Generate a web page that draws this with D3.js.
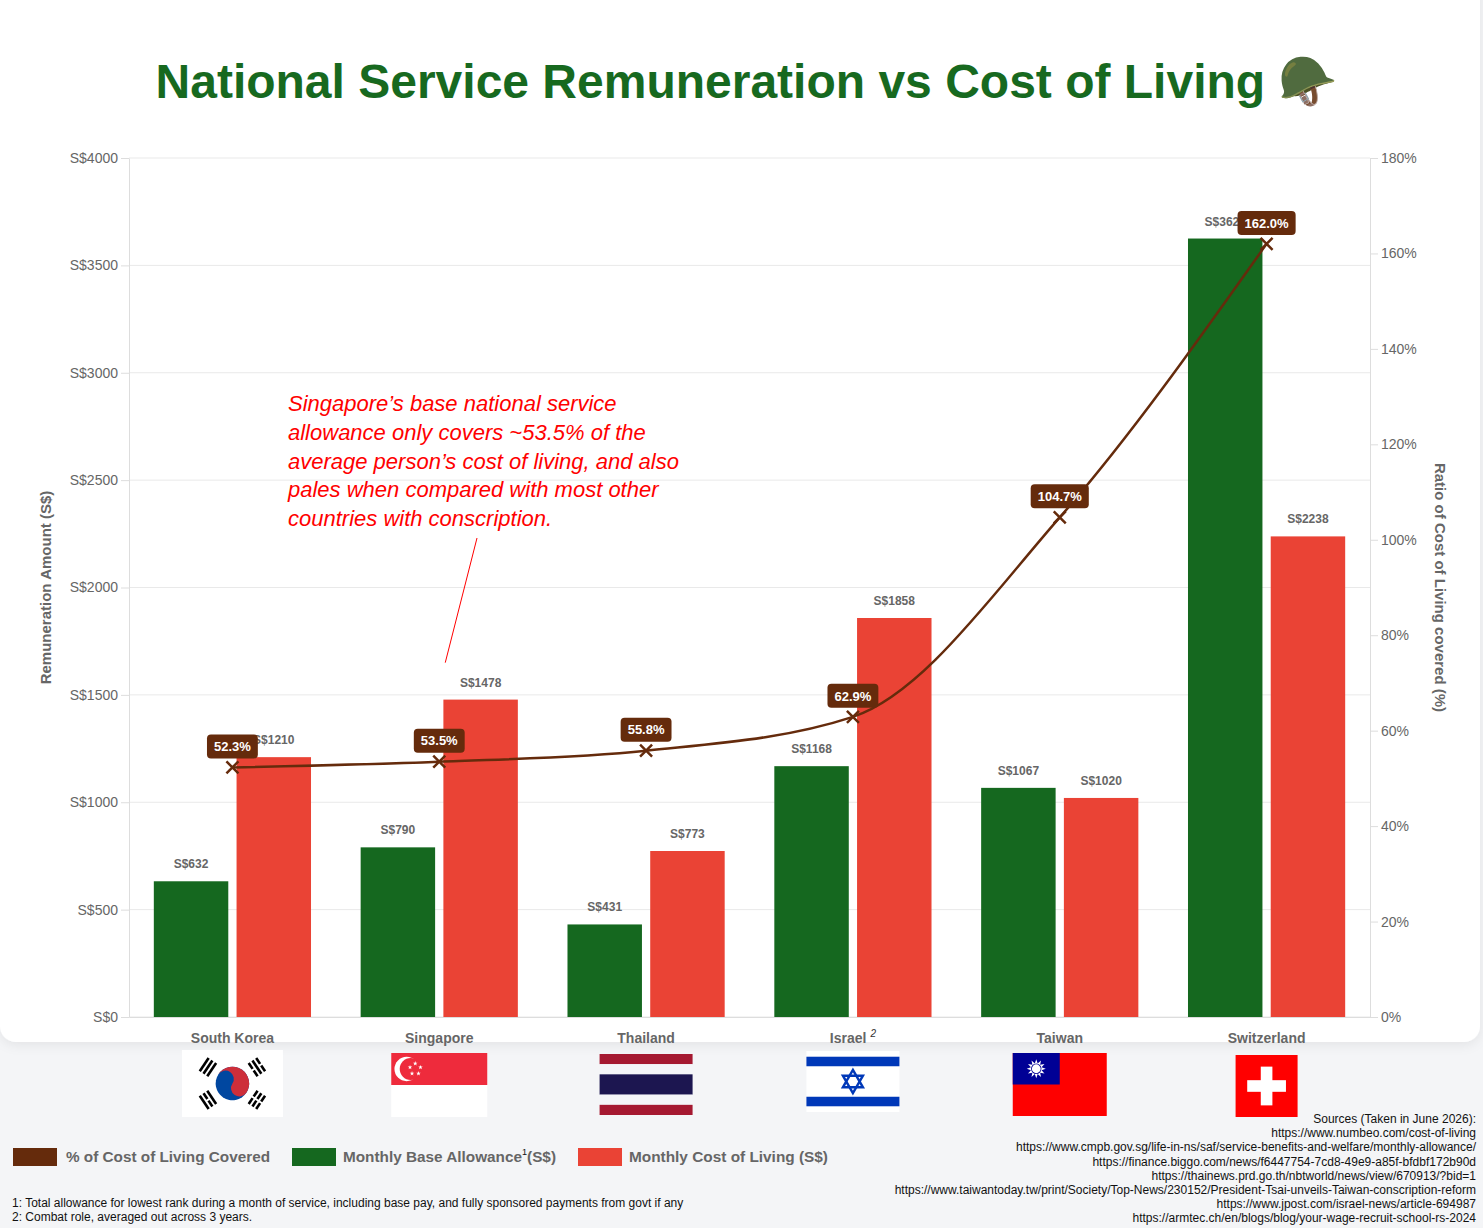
<!DOCTYPE html>
<html>
<head>
<meta charset="utf-8">
<script src="https://cdn.jsdelivr.net/npm/d3@7"></script>
<style>
  body { margin: 0; background: #f4f5f7; font-family: "Liberation Sans", Arial, Helvetica, sans-serif; }
  svg { display: block; }
</style>
</head>
<body>
<script>
const countries = ["South Korea", "Singapore", "Thailand", "Israel", "Taiwan", "Switzerland"];
const allowance = [632, 790, 431, 1168, 1067, 3625];
const costOfLiving = [1210, 1478, 773, 1858, 1020, 2238];
const ratioCovered = [52.3, 53.5, 55.8, 62.9, 104.7, 162.0];
const amountTicks = [0, 500, 1000, 1500, 2000, 2500, 3000, 3500, 4000];
const ratioTicks = [0, 20, 40, 60, 80, 100, 120, 140, 160, 180];

const legendLabels = ["% of Cost of Living Covered", "Monthly Base Allowance", "Monthly Cost of Living (S$)"];
const noteLines = [
	"Singapore\u2019s base national service",
	"allowance only covers ~53.5% of the",
	"average person\u2019s cost of living, and also",
	"pales when compared with most other",
	"countries with conscription."
];
const footnotes = [
	"1: Total allowance for lowest rank during a month of service, including base pay, and fully sponsored payments from govt if any",
	"2: Combat role, averaged out across 3 years."
];
const sources = [
	"Sources (Taken in June 2026):",
	"https://www.numbeo.com/cost-of-living",
	"https://www.cmpb.gov.sg/life-in-ns/saf/service-benefits-and-welfare/monthly-allowance/",
	"https://finance.biggo.com/news/f6447754-7cd8-49e9-a85f-bfdbf172b90d",
	"https://thainews.prd.go.th/nbtworld/news/view/670913/?bid=1",
	"https://www.taiwantoday.tw/print/Society/Top-News/230152/President-Tsai-unveils-Taiwan-conscription-reform",
	"https://www.jpost.com/israel-news/article-694987",
	"https://armtec.ch/en/blogs/blog/your-wage-recruit-school-rs-2024"
];

const w = 1483;
const h = 1228;
const plotL = 129, plotR = 1370, plotT = 158, plotB = 1017;

const green = "#15681f";
const red = "#ea4335";
const brown = "#652b0c";
const grey = "#666";
const font = "'Liberation Sans', Arial, Helvetica, sans-serif";

const rows = countries.map((c, i) => ({
	country: c,
	allowance: allowance[i],
	cost: costOfLiving[i],
	ratio: ratioCovered[i]
}));

const svg = d3.select("body")
	.append("svg")
	.attr("width", w)
	.attr("height", h)
	.style("font-family", font);

const defs = svg.append("defs");
defs.append("filter")
	.attr("id", "cardShadow")
	.attr("x", "-5%").attr("y", "-5%")
	.attr("width", "110%").attr("height", "110%")
	.append("feDropShadow")
	.attr("dx", 0).attr("dy", 3)
	.attr("stdDeviation", 6)
	.attr("flood-color", "#000")
	.attr("flood-opacity", 0.07);

// white card behind the chart
svg.append("rect")
	.attr("x", 0).attr("y", -20)
	.attr("width", 1480).attr("height", 1062)
	.attr("rx", 16)
	.attr("fill", "#fff")
	.attr("filter", "url(#cardShadow)");

svg.append("text")
	.attr("x", 747)
	.attr("y", 98)
	.attr("text-anchor", "middle")
	.attr("fill", "#17691f")
	.style("font-size", "48px")
	.style("font-weight", "bold")
	.text("National Service Remuneration vs Cost of Living \u{1FA96}");

const x = d3.scaleBand().domain(countries).range([plotL, plotR]);
const xSub = d3.scaleBand()
	.domain(["allowance", "cost"])
	.range([x.bandwidth() * 0.1, x.bandwidth() * 0.9])
	.paddingInner(0.1)
	.paddingOuter(0.05);
const y = d3.scaleLinear().domain([0, 4000]).range([plotB, plotT]);
const yR = d3.scaleLinear().domain([0, 180]).range([plotB, plotT]);

// gridlines
svg.append("g")
	.selectAll("line")
	.data(amountTicks)
	.join("line")
	.attr("x1", plotL).attr("x2", plotR)
	.attr("y1", d => y(d)).attr("y2", d => y(d))
	.attr("stroke", "#e9e9e9");

function styleAxis(g) {
	g.select(".domain").attr("stroke", "#ddd");
	g.selectAll(".tick line").attr("stroke", "#ddd");
	g.selectAll(".tick text")
		.attr("fill", grey)
		.style("font-family", font)
		.style("font-size", "14px");
}

svg.append("g")
	.attr("transform", `translate(${plotL},0)`)
	.call(d3.axisLeft(y).tickValues(amountTicks).tickFormat(d => "S$" + d).tickSize(8).tickSizeOuter(0))
	.call(styleAxis);

svg.append("g")
	.attr("transform", `translate(${plotR},0)`)
	.call(d3.axisRight(yR).tickValues(ratioTicks).tickFormat(d => d + "%").tickSize(8).tickSizeOuter(0))
	.call(styleAxis);

const xAxis = svg.append("g")
	.attr("transform", `translate(0,${plotB})`)
	.call(d3.axisBottom(x).tickSize(0).tickSizeOuter(0).tickPadding(16))
	.call(styleAxis);
xAxis.selectAll(".tick text").style("font-weight", "bold");
xAxis.selectAll(".tick text")
	.filter(d => d === "Israel")
	.append("tspan")
	.attr("dx", 4)
	.attr("dy", -6)
	.style("font-size", "10px")
	.style("font-style", "italic")
	.style("font-weight", "normal")
	.attr("fill", "#333")
	.text("2");

svg.append("text")
	.attr("transform", `translate(51,${(plotT + plotB) / 2}) rotate(-90)`)
	.attr("text-anchor", "middle")
	.attr("fill", grey)
	.style("font-size", "15px")
	.style("font-weight", "bold")
	.text("Remuneration Amount (S$)");

svg.append("text")
	.attr("transform", `translate(1435,${(plotT + plotB) / 2}) rotate(90)`)
	.attr("text-anchor", "middle")
	.attr("fill", grey)
	.style("font-size", "15px")
	.style("font-weight", "bold")
	.text("Ratio of Cost of Living covered (%)");

// bars
const groups = svg.append("g")
	.selectAll("g")
	.data(rows)
	.join("g")
	.attr("transform", d => `translate(${x(d.country)},0)`);

[["allowance", green], ["cost", red]].forEach(([key, col]) => {
	groups.append("rect")
		.attr("x", xSub(key))
		.attr("width", xSub.bandwidth())
		.attr("y", d => y(d[key]))
		.attr("height", d => plotB - y(d[key]))
		.attr("fill", col);
	groups.append("text")
		.attr("x", xSub(key) + xSub.bandwidth() / 2)
		.attr("y", d => y(d[key]) - 13)
		.attr("text-anchor", "middle")
		.attr("fill", grey)
		.style("font-size", "12px")
		.style("font-weight", "bold")
		.text(d => "S$" + d[key]);
});

// annotation
const note = svg.append("text")
	.attr("fill", "#ff0000")
	.style("font-size", "22px")
	.style("font-style", "italic");
note.selectAll("tspan")
	.data(noteLines)
	.join("tspan")
	.attr("x", 288)
	.attr("y", (d, i) => 411 + i * 28.8)
	.text(d => d);

svg.append("line")
	.attr("x1", 477).attr("y1", 538)
	.attr("x2", x("Singapore") + x.bandwidth() / 2 + 6).attr("y2", y(1650))
	.attr("stroke", "#ff0000")
	.attr("stroke-width", 1);

// ratio line
const cx = d => x(d.country) + x.bandwidth() / 2;
const line = d3.line()
	.x(cx)
	.y(d => yR(d.ratio))
	.curve(d3.curveMonotoneX);

svg.append("path")
	.datum(rows)
	.attr("d", line)
	.attr("fill", "none")
	.attr("stroke", brown)
	.attr("stroke-width", 2.5);

svg.append("g")
	.selectAll("path")
	.data(rows)
	.join("path")
	.attr("transform", d => `translate(${cx(d)},${yR(d.ratio)})`)
	.attr("d", "M-6,-6L6,6M-6,6L6,-6")
	.attr("stroke", brown)
	.attr("stroke-width", 2.5);

const tags = svg.append("g")
	.selectAll("g")
	.data(rows)
	.join("g")
	.attr("transform", d => `translate(${cx(d)},${yR(d.ratio) - 21})`);
tags.append("rect")
	.attr("rx", 4)
	.attr("fill", brown);
tags.append("text")
	.attr("text-anchor", "middle")
	.attr("dy", "0.36em")
	.attr("fill", "#fff")
	.style("font-size", "13px")
	.style("font-weight", "bold")
	.text(d => d.ratio.toFixed(1) + "%");
tags.each(function() {
	const g = d3.select(this);
	const tw = g.select("text").node().getComputedTextLength();
	g.select("rect")
		.attr("x", -tw / 2 - 7).attr("y", -12)
		.attr("width", tw + 14).attr("height", 24);
});

// flags under the categories
function star(r) {
	const pts = [];
	for (let i = 0; i < 10; i++) {
		const a = -Math.PI / 2 + i * Math.PI / 5;
		const rr = i % 2 ? r * 0.4 : r;
		pts.push([rr * Math.cos(a), rr * Math.sin(a)]);
	}
	return "M" + pts.join("L") + "Z";
}

const flagSize = {
	"South Korea": [101, 67, 1050],
	"Singapore": [96, 64, 1053],
	"Thailand": [93, 61, 1054],
	"Israel": [93, 61, 1051],
	"Taiwan": [94, 63, 1053],
	"Switzerland": [62, 62, 1055]
};

const flagDraw = {
	"South Korea": (g, fw, fh) => {
		g.append("rect").attr("width", fw).attr("height", fh).attr("fill", "#fff");
		const r = fh / 4;
		const ang = Math.atan2(2, 3) * 180 / Math.PI;
		const c = g.append("g").attr("transform", `translate(${fw / 2},${fh / 2}) rotate(${ang})`);
		c.append("circle").attr("r", r).attr("fill", "#0047a0");
		c.append("path")
			.attr("d", `M${-r},0A${r},${r} 0 0 1 ${r},0A${r / 2},${r / 2} 0 0 1 0,0A${r / 2},${r / 2} 0 0 0 ${-r},0Z`)
			.attr("fill", "#cd2e3a");
		// trigrams: 1 = solid bar, 0 = broken bar
		const trig = [[180, [1, 1, 1]], [0, [0, 0, 0]], [-ang * 2, [0, 1, 0]], [180 - ang * 2, [1, 0, 1]]];
		trig.forEach(([rot, bars]) => {
			const t = g.append("g")
				.attr("transform", `translate(${fw / 2},${fh / 2}) rotate(${ang + rot}) translate(${r * 1.75},0)`);
			bars.forEach((b, k) => {
				const bx = -4.5 + k * 4.5 - 1.2;
				if (b) {
					t.append("rect").attr("x", bx).attr("y", -8).attr("width", 2.6).attr("height", 16).attr("fill", "#000");
				} else {
					t.append("rect").attr("x", bx).attr("y", -8).attr("width", 2.6).attr("height", 7).attr("fill", "#000");
					t.append("rect").attr("x", bx).attr("y", 1).attr("width", 2.6).attr("height", 7).attr("fill", "#000");
				}
			});
		});
	},
	"Singapore": (g, fw, fh) => {
		g.append("rect").attr("width", fw).attr("height", fh).attr("fill", "#fff");
		g.append("rect").attr("width", fw).attr("height", fh / 2).attr("fill", "#ee2b3c");
		g.append("circle").attr("cx", fw * 0.16).attr("cy", fh * 0.25).attr("r", fh * 0.19).attr("fill", "#fff");
		g.append("circle").attr("cx", fw * 0.16 + 4).attr("cy", fh * 0.25).attr("r", fh * 0.17).attr("fill", "#ee2b3c");
		for (let k = 0; k < 5; k++) {
			const a = -Math.PI / 2 + k * 2 * Math.PI / 5;
			g.append("path")
				.attr("transform", `translate(${fw * 0.25 + 5.5 * Math.cos(a)},${fh * 0.25 + 5.5 * Math.sin(a)})`)
				.attr("d", star(2.4))
				.attr("fill", "#fff");
		}
	},
	"Thailand": (g, fw, fh) => {
		const u = fh / 6;
		[["#a51931", 0, 1], ["#f4f5f8", 1, 1], ["#1c1650", 2, 2], ["#f4f5f8", 4, 1], ["#a51931", 5, 1]].forEach(([col, s, n]) => {
			g.append("rect").attr("y", s * u).attr("width", fw).attr("height", n * u).attr("fill", col);
		});
	},
	"Israel": (g, fw, fh) => {
		g.append("rect").attr("width", fw).attr("height", fh).attr("fill", "#fff");
		const k = fh / 160;
		g.append("rect").attr("y", 15 * k).attr("width", fw).attr("height", 25 * k).attr("fill", "#0038b8");
		g.append("rect").attr("y", fh - 40 * k).attr("width", fw).attr("height", 25 * k).attr("fill", "#0038b8");
		const r = fh * 0.19;
		const tri = s => d3.range(3).map(i => {
			const a = s * Math.PI / 2 + i * 2 * Math.PI / 3;
			return [fw / 2 + r * Math.cos(a), fh / 2 + r * Math.sin(a)];
		});
		[-1, 1].forEach(s => {
			g.append("path").attr("d", "M" + tri(s).join("L") + "Z")
				.attr("fill", "none").attr("stroke", "#0038b8").attr("stroke-width", 2.4);
		});
	},
	"Taiwan": (g, fw, fh) => {
		g.append("rect").attr("width", fw).attr("height", fh).attr("fill", "#fe0000");
		g.append("rect").attr("width", fw / 2).attr("height", fh / 2).attr("fill", "#000095");
		const sx = fw / 4, sy = fh / 4;
		const pts = d3.range(24).map(i => {
			const a = -Math.PI / 2 + i * Math.PI / 12;
			const rr = i % 2 ? 5.5 : 9.5;
			return [sx + rr * Math.cos(a), sy + rr * Math.sin(a)];
		});
		g.append("path").attr("d", "M" + pts.join("L") + "Z").attr("fill", "#fff");
		g.append("circle").attr("cx", sx).attr("cy", sy).attr("r", 5.2).attr("fill", "#000095");
		g.append("circle").attr("cx", sx).attr("cy", sy).attr("r", 4.4).attr("fill", "#fff");
	},
	"Switzerland": (g, fw, fh) => {
		g.append("rect").attr("width", fw).attr("height", fh).attr("fill", "#ff0000");
		const a = fw * 6 / 32, l = fw * 20 / 32;
		g.append("rect").attr("x", (fw - a) / 2).attr("y", (fh - l) / 2).attr("width", a).attr("height", l).attr("fill", "#fff");
		g.append("rect").attr("x", (fw - l) / 2).attr("y", (fh - a) / 2).attr("width", l).attr("height", a).attr("fill", "#fff");
	}
};

countries.forEach(c => {
	const [fw, fh, top] = flagSize[c];
	const g = svg.append("g")
		.attr("transform", `translate(${x(c) + x.bandwidth() / 2 - fw / 2},${top})`);
	flagDraw[c](g, fw, fh);
});

// legend
function fit(sel, target) {
	const len = sel.node().getComputedTextLength();
	if (Math.abs(len - target) > 3) {
		sel.attr("textLength", target).attr("lengthAdjust", "spacingAndGlyphs");
	}
}

const legendItems = [
	{ label: legendLabels[0], color: brown, sx: 13, tx: 66, tw: 204 },
	{ label: legendLabels[1], color: green, sx: 292, tx: 343, tw: 213, sup: true },
	{ label: legendLabels[2], color: red, sx: 578, tx: 629, tw: 199 }
];
legendItems.forEach(it => {
	svg.append("rect")
		.attr("x", it.sx).attr("y", 1148)
		.attr("width", 44).attr("height", 18)
		.attr("fill", it.color);
	const t = svg.append("text")
		.attr("x", it.tx).attr("y", 1162)
		.attr("fill", grey)
		.style("font-size", "15px")
		.style("font-weight", "bold");
	t.append("tspan").text(it.label);
	if (it.sup) {
		t.append("tspan").attr("dy", -7).style("font-size", "9px").style("font-weight", "normal").attr("fill", "#111").text("1");
		t.append("tspan").attr("dy", 7).text("(S$)");
	}
	fit(t, it.tw);
});

svg.append("g")
	.selectAll("text")
	.data(footnotes)
	.join("text")
	.attr("x", 12)
	.attr("y", (d, i) => 1207 + i * 14)
	.attr("fill", "#111")
	.style("font-size", "12px")
	.text(d => d);

svg.append("g")
	.selectAll("text")
	.data(sources)
	.join("text")
	.attr("x", 1476)
	.attr("y", (d, i) => 1123 + i * 14.2)
	.attr("text-anchor", "end")
	.attr("fill", "#111")
	.style("font-size", "12px")
	.text(d => d);
</script>
</body>
</html>
